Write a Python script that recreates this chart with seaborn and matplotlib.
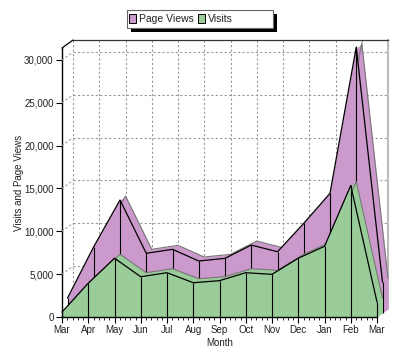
import numpy as np
import pandas as pd
import seaborn as sns
import matplotlib.pyplot as plt
from matplotlib import transforms
from matplotlib.patches import Patch, Rectangle
from matplotlib.lines import Line2D

# values
months = ['Mar', 'Apr', 'May', 'Jun', 'Jul', 'Aug', 'Sep', 'Oct', 'Nov', 'Dec', 'Jan', 'Feb', 'Mar']
visits = [580, 3950, 6860, 4700, 5170, 4000, 4240, 5170, 4980, 6860, 8250, 15350, 1750]
page_views = [1750, 7740, 13190, 6970, 7430, 6070, 6380, 7930, 7150, 10470, 13970, 31040, 3600]
y_ticks = [0, 5000, 10000, 15000, 20000, 25000, 30000]

df = pd.DataFrame({'pos': np.arange(len(months)), 'Month': months,
                   'Visits': visits, 'Page Views': page_views})

sns.set_theme(style='white')
plt.rcParams['font.family'] = ['Liberation Sans', 'DejaVu Sans']

PURPLE = '#cc99cc'
GREEN = '#99cc99'

W, H = 400, 356
fig = plt.figure(figsize=(W / 100, H / 100), dpi=100)
fig.patch.set_facecolor('white')

# front plane (pixel box) and depth of the 3d effect
left, right, bottom, top = 62, 377, 317, 48
dx, dy = 11, 8

ax_back = fig.add_axes([(left + dx) / W, 1 - (bottom - dy) / H, (right - left) / W, (bottom - top) / H])
ax = fig.add_axes([left / W, 1 - bottom / H, (right - left) / W, (bottom - top) / H])

for a in (ax_back, ax):
    a.set_xlim(0, len(months) - 1)
    a.set_ylim(0, 31400)
    a.set_xticks(df['pos'])
    a.set_yticks(y_ticks)

# back wall with the dashed grid
ax_back.set_facecolor('white')
ax_back.grid(True, linestyle=(0, (2, 2)), color='#999999', linewidth=0.8)
ax_back.tick_params(left=False, bottom=False, labelleft=False, labelbottom=False)
for side in ['left', 'bottom']:
    ax_back.spines[side].set_visible(False)
ax_back.spines['top'].set_color('#333333')
ax_back.spines['top'].set_linewidth(0.9)
ax_back.spines['right'].set_color('#bbbbbb')
ax_back.spines['right'].set_linewidth(1.5)


def shifted(px, py):
    return ax.transData + transforms.ScaledTranslation(px / 100, py / 100, fig.dpi_scale_trans)


def area3d(col, color, front, back, z):
    x = df['pos'].values
    y = df[col].values
    # extrude the area from the back slot to the front slot
    for t in np.linspace(1, 0, 14):
        ox = front[0] + t * (back[0] - front[0])
        oy = front[1] + t * (back[1] - front[1])
        ax.fill_between(x, 0, y, color=color, linewidth=0, transform=shifted(ox, oy),
                        clip_on=False, zorder=z)
    ax.plot(x, y, color='#777777', linewidth=0.8, transform=shifted(*back), clip_on=False, zorder=z + 0.1)
    ax.fill_between(x, 0, y, color=color, linewidth=0, transform=shifted(*front),
                    clip_on=False, zorder=z + 0.2)
    sns.lineplot(data=df, x='pos', y=col, ax=ax, color='black', linewidth=0.9,
                 transform=shifted(*front), clip_on=False, zorder=z + 0.3)
    ax.vlines(x, 0, y, colors='black', linewidth=0.8, transform=shifted(*front),
              clip_on=False, zorder=z + 0.3)


mid = (dx / 2, dy / 2)
area3d('Page Views', PURPLE, mid, (dx, dy), 1)
area3d('Visits', GREEN, (0, 0), mid, 2)

# front axes
ax.patch.set_alpha(0)
ax.grid(False)
ax.spines['top'].set_visible(False)
ax.spines['right'].set_visible(False)
for side in ['left', 'bottom']:
    ax.spines[side].set_color('black')
    ax.spines[side].set_linewidth(1.0)
    ax.spines[side].set_zorder(5)
ax.set_xticklabels(months)
ax.set_yticklabels([f'{v:,}' for v in y_ticks])
ax.set_xticks(np.arange(0, len(months) - 1 + 0.01, 0.2), minor=True)
ax.tick_params(axis='both', which='major', direction='out', length=4, width=0.8,
               color='black', labelsize=7, pad=2, left=True, bottom=True, labelcolor='#222222')
ax.tick_params(axis='x', which='minor', direction='out', length=2, width=0.6,
               color='black', bottom=True)
ax.set_xlabel('Month', fontsize=7, labelpad=2, color='#222222')
ax.set_ylabel('Visits and Page Views', fontsize=7, labelpad=0, color='#222222')

# side wall: corner edge and grid lines
fig.canvas.draw()
for v in y_ticks[1:]:
    x0, y0 = ax.transData.transform((0, v))
    fig.add_artist(Line2D([x0, x0 + dx], [y0, y0 + dy], transform=None,
                          color='#999999', linewidth=0.8, linestyle=(0, (2, 2))))
x0, y0 = ax.transAxes.transform((0, 1))
fig.add_artist(Line2D([x0, x0 + dx], [y0, y0 + dy], transform=None, color='black', linewidth=0.9))

# legend box with hard shadow (JFreeChart style, extra room on the right)
bx0, bx1, by0, by1 = 127, 273, 10, 28
fig.add_artist(Rectangle((bx0 + 4, H - by1 - 4), bx1 - bx0, by1 - by0, transform=None,
                         facecolor='black', edgecolor='none'))
fig.add_artist(Rectangle((bx0, H - by1), bx1 - bx0, by1 - by0, transform=None,
                         facecolor='white', edgecolor='#666666', linewidth=0.8))
handles = [Patch(facecolor=PURPLE, edgecolor='black', linewidth=0.7, label='Page Views'),
           Patch(facecolor=GREEN, edgecolor='black', linewidth=0.7, label='Visits')]
leg = fig.legend(handles=handles, loc='center left', bbox_to_anchor=(bx0 / W, 1 - (by0 + by1) / 2 / H),
                 ncol=2, fontsize=7.5, frameon=False, handlelength=0.7, handleheight=0.9,
                 handletextpad=0.25, columnspacing=0.4, borderpad=0.2, borderaxespad=0)
for t in leg.get_texts():
    t.set_color('#222222')

fig.savefig('out.png', dpi=100, facecolor='white')
